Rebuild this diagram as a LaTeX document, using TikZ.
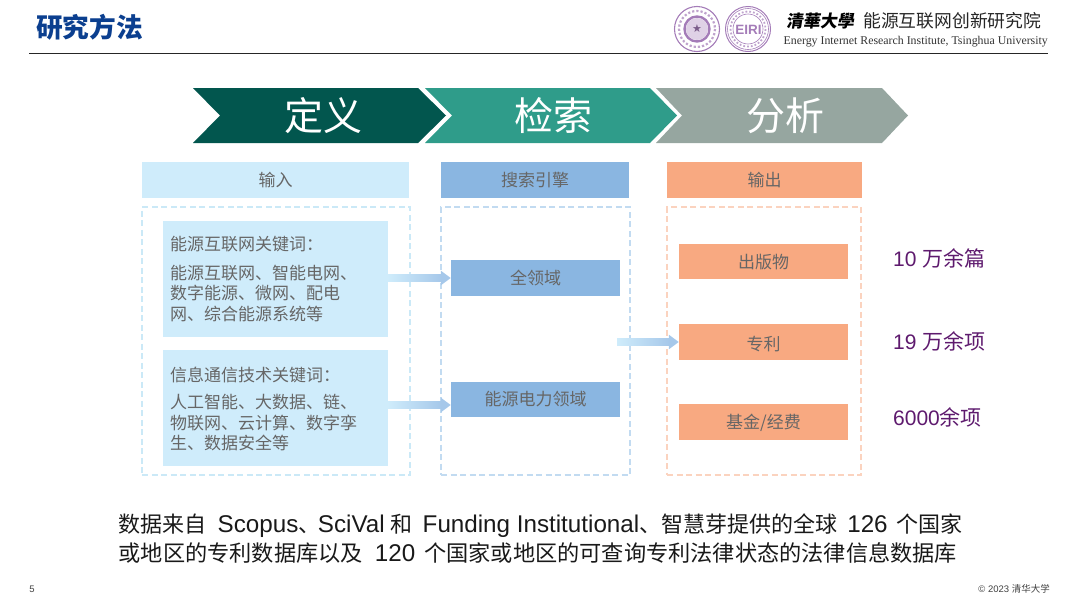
\documentclass[tikz,border=0pt]{standalone}
\usepackage{fontspec}
\usetikzlibrary{arrows.meta,calc}
\setmainfont{Liberation Sans}
\newfontfamily\cjk{Noto Sans CJK SC}
\newfontfamily\dejavu{DejaVu Sans}
\newfontfamily\serifen{Liberation Serif}
\newfontfamily\latfont{Liberation Sans}
\newcommand\zh[1]{{\cjk #1}}
\newcommand\fsz[1]{\fontsize{#1}{#1}\selectfont}
\newcommand\lat[1]{{\latfont\fsz{24.2}#1}}
\newcommand\lowr[2]{\raisebox{-#1}[\height][\depth]{#2}}
\definecolor{cgreen}{HTML}{02564E}
\definecolor{cteal}{HTML}{2F9C8A}
\definecolor{cgrey}{HTML}{96A6A0}
\definecolor{clight}{HTML}{CFECFB}
\definecolor{cblue}{HTML}{8AB6E1}
\definecolor{corange}{HTML}{F8A981}
\definecolor{ctxt}{HTML}{666666}
\definecolor{cpurple}{HTML}{5E1A6E}
\definecolor{cseal}{HTML}{A47CB8}
\definecolor{ctitle}{HTML}{0B3F8F}
\definecolor{cdasha}{HTML}{CBE9F7}
\definecolor{cdashb}{HTML}{C2DBF1}
\definecolor{cdashc}{HTML}{FBD3BF}
\definecolor{carrow}{HTML}{A6C8EA}
\tikzset{
  x=1pt,y=-1pt,
  chev/.style={fill=#1,draw=none},
  bigtxt/.style={text=white,inner sep=0pt,font=\cjk\fsz{39}},
  box/.style={fill=#1,draw=none,inner sep=0pt,text=ctxt,font=\cjk\fsz{17}},
  dbox/.style={draw=#1,line width=1.15pt,dash pattern=on 6pt off 3.5pt,inner sep=0pt},
  kw/.style={anchor=west,inner sep=0pt,text=ctxt,font=\cjk\fontsize{17}{20.5}\selectfont,align=left},
  count/.style={anchor=west,inner sep=0pt,text=cpurple,font=\fsz{21}},
  flow/.style={draw=carrow,line width=7pt,-{Triangle[length=10pt,width=14pt,fill=carrow]}},
  seal/.style={draw=cseal},
  capt/.style={anchor=west,inner sep=0pt,text=black!90,font=\cjk\fsz{#1}}
}
\begin{document}
\begin{tikzpicture}
\useasboundingbox (0,0) rectangle (1080,608);
% header
\node[anchor=west,inner sep=0pt,text=ctitle,font=\cjk\bfseries\fsz{26.7}] (title) at (36,27) {研究方法};
\coordinate (ruleL) at (29,53); \coordinate (ruleR) at (1048,53);
\draw[line width=0.8pt,black!85] (ruleL) -- (ruleR);
% logos
\draw[seal,line width=1.1pt] (697,29) circle (22.5);
\draw[cseal!70,line width=2.2pt,dotted] (697,29) circle (18);
\draw[seal,line width=2.4pt] (697,29) circle (12.5);
\fill[cseal!35] (697,29) circle (11);
\node[inner sep=0pt,text=cseal!75!black,font=\dejavu\fsz{11}] (star) at (697,28.5) {★};
\draw[seal,line width=1pt] (748,29) circle (22.5);
\draw[seal,line width=0.6pt] (748,29) circle (20.5);
\draw[cseal!70,line width=1.8pt,dotted] (748,29) circle (17.5);
\draw[seal,line width=0.6pt] (748,29) circle (15);
\node[inner sep=0pt,text=cseal,font=\bfseries\fsz{13.5}] (eiri) at (748.5,29.5) {EIRI};
\node[anchor=west,inner sep=0pt,font=\cjk\bfseries\fsz{17},xslant=0.15] (thu) at (787,21) {清華大學};
\node[anchor=west,inner sep=0pt,text=black!85,font=\cjk\fsz{17.8}] (eiz) at (863,21) {能源互联网创新研究院};
\node[anchor=east,inner sep=0pt,text=black!80,font=\serifen\fsz{11.85}] (eie) at (1048,41.5) {Energy Internet Research Institute, Tsinghua University};
% chevrons
\fill[chev=cgreen] (193,88) -- (418,88) -- (446,115.5) -- (418,143) -- (193,143) -- (220,115.5) -- cycle;
\fill[chev=cteal] (425,88) -- (650,88) -- (677,115.5) -- (650,143) -- (425,143) -- (452,115.5) -- cycle;
\fill[chev=cgrey] (656,88) -- (882,88) -- (908,115.5) -- (882,143) -- (656,143) -- (682,115.5) -- cycle;
\node[bigtxt] (def) at (323,115.5) {定义};
\node[bigtxt] (sea) at (553.5,115.5) {检索};
\node[bigtxt] (ana) at (785.5,115.5) {分析};
% dashed frames
\node[dbox=cdasha,minimum width=268pt,minimum height=268pt] (fa) at (276,341) {};
\node[dbox=cdashb,minimum width=189pt,minimum height=268pt] (fb) at (535.5,341) {};
\node[dbox=cdashc,minimum width=194pt,minimum height=268pt] (fc) at (764,341) {};
% header boxes
\node[box=clight,minimum width=267pt,minimum height=36pt] (h1) at (275.5,180) {输入};
\node[box=cblue,minimum width=188pt,minimum height=36pt] (h2) at (535,180) {搜索引擎};
\node[box=corange,minimum width=195pt,minimum height=36pt] (h3) at (764.5,180) {输出};
% keyword boxes
\node[box=clight,minimum width=225pt,minimum height=116pt] (k1) at (275.5,279) {};
\node[box=clight,minimum width=225pt,minimum height=116pt] (k2) at (275.5,408) {};
\node[kw] (k1t) at (170,244) {能源互联网关键词：};
\node[kw] (k1b) at (170,293.5) {能源互联网、智能电网、\\数字能源、微网、配电\\网、综合能源系统等};
\node[kw] (k2t) at (170,375) {信息通信技术关键词：};
\node[kw] (k2b) at (170,423) {人工智能、大数据、链、\\物联网、云计算、数字孪\\生、数据安全等};
% search boxes
\node[box=cblue,minimum width=169pt,minimum height=36pt] (s1) at (535.5,278) {全领域};
\node[box=cblue,minimum width=169pt,minimum height=35pt] (s2) at (535.5,399.5) {能源电力领域};
% output boxes
\node[box=corange,minimum width=169pt,minimum height=35pt] (o1) at (763.5,261.5) {\lowr{1pt}{出版物}};
\node[box=corange,minimum width=169pt,minimum height=36pt] (o2) at (763.5,341.5) {\lowr{2.5pt}{专利}};
\node[box=corange,minimum width=169pt,minimum height=36pt] (o3) at (763.5,422) {\lowr{1pt}{\zh{基金}/\zh{经费}}};
% connectors
\coordinate (a3) at (617,342);
\draw[flow] (k1.east |- s1.west) -- (s1.west);
\draw[flow] ([yshift=3pt]k2.east) -- ([yshift=-5.5pt]s2.west);
\draw[flow] (a3) -- (o2.west |- a3);
\shade[left color=clight,right color=carrow] (388,274.5) rectangle (441,281.5);
\shade[left color=clight,right color=carrow] (388,401.5) rectangle (441,408.5);
\shade[left color=clight,right color=carrow] (617,338.5) rectangle (669.5,345.5);
% counts
\node[count] (c1) at (893,258) {10 \zh{万余篇}};
\node[count] (c2) at (893,341) {19 \zh{万余项}};
\node[count] (c3) at (893,417) {6000\zh{余项}};
% caption
\node[capt=22] (l1) at (118.5,526) {数据来自\hspace{11pt}\lat{Scopus}、\hspace{-2.5pt}\lat{SciVal}\hspace{6pt}和\hspace{10pt}\lat{Funding Institutional}、智慧芽提供的全球\hspace{10pt}\lat{126}\hspace{9pt}个国家};
\node[capt=22.2] (l2) at (118.5,553) {或地区的专利数据库以及\hspace{12pt}\lat{120}\hspace{9pt}个国家或地区的可查询专利法律状态的法律信息数据库};
% footer
\node[inner sep=0pt,text=black!75,font=\fsz{9.5}] (pg) at (32,589) {5};
\node[anchor=east,inner sep=0pt,text=black!75,font=\fsz{9.5}] (cr) at (1050,589) {© 2023 \zh{清华大学}};
\end{tikzpicture}
\end{document}
